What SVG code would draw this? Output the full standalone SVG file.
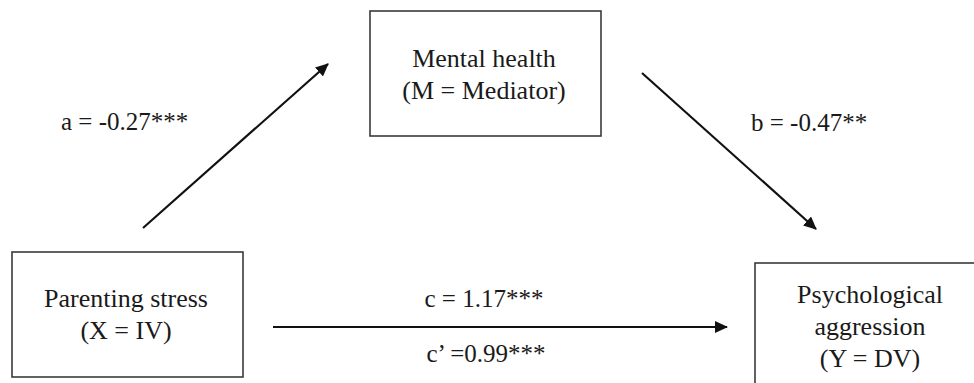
<svg xmlns="http://www.w3.org/2000/svg" width="974" height="383" viewBox="0 0 974 383">
  <style>
    .box { fill: #ffffff; stroke: #3a3a3a; stroke-width: 1.6; }
    .lbl { font-family: "Liberation Serif", "Times New Roman", serif; font-size: 26px; fill: #1a1a1a; text-anchor: middle; }
    .coef { font-family: "Liberation Serif", "Times New Roman", serif; font-size: 25px; fill: #1a1a1a; }
    .arrow { stroke: #111111; stroke-width: 2.2; fill: none; marker-end: url(#ah); }
  </style>
  <defs>
    <marker id="ah" markerUnits="userSpaceOnUse" markerWidth="14" markerHeight="12" refX="12" refY="6" orient="auto">
      <path d="M0,0 L13,6 L0,12 Z" fill="#111111"/>
    </marker>
  </defs>
  <rect width="974" height="383" fill="#ffffff"/>

  <g id="node-mediator">
    <rect class="box" x="370" y="11" width="231" height="125"/>
    <text class="lbl" x="484" y="67">Mental health</text>
    <text class="lbl" x="484" y="99">(M = Mediator)</text>
  </g>

  <g id="node-iv">
    <rect class="box" x="12" y="252" width="231" height="125"/>
    <text class="lbl" x="126" y="307">Parenting stress</text>
    <text class="lbl" x="126" y="339">(X = IV)</text>
  </g>

  <g id="node-dv">
    <rect class="box" x="755" y="263" width="230" height="130"/>
    <text class="lbl" x="870" y="303">Psychological</text>
    <text class="lbl" x="870" y="335">aggression</text>
    <text class="lbl" x="870" y="367">(Y = DV)</text>
  </g>

  <g id="connectors">
    <line class="arrow" x1="143" y1="228" x2="328" y2="64"/>
    <line class="arrow" x1="642" y1="73" x2="816" y2="229"/>
    <line class="arrow" x1="273" y1="327" x2="727" y2="327"/>
    <text class="coef" x="61" y="130">a = -0.27***</text>
    <text class="coef" x="751" y="131">b = -0.47**</text>
    <text class="coef" x="484" y="307" text-anchor="middle">c = 1.17***</text>
    <text class="coef" x="486" y="362" text-anchor="middle">c’ =0.99***</text>
  </g>
</svg>
